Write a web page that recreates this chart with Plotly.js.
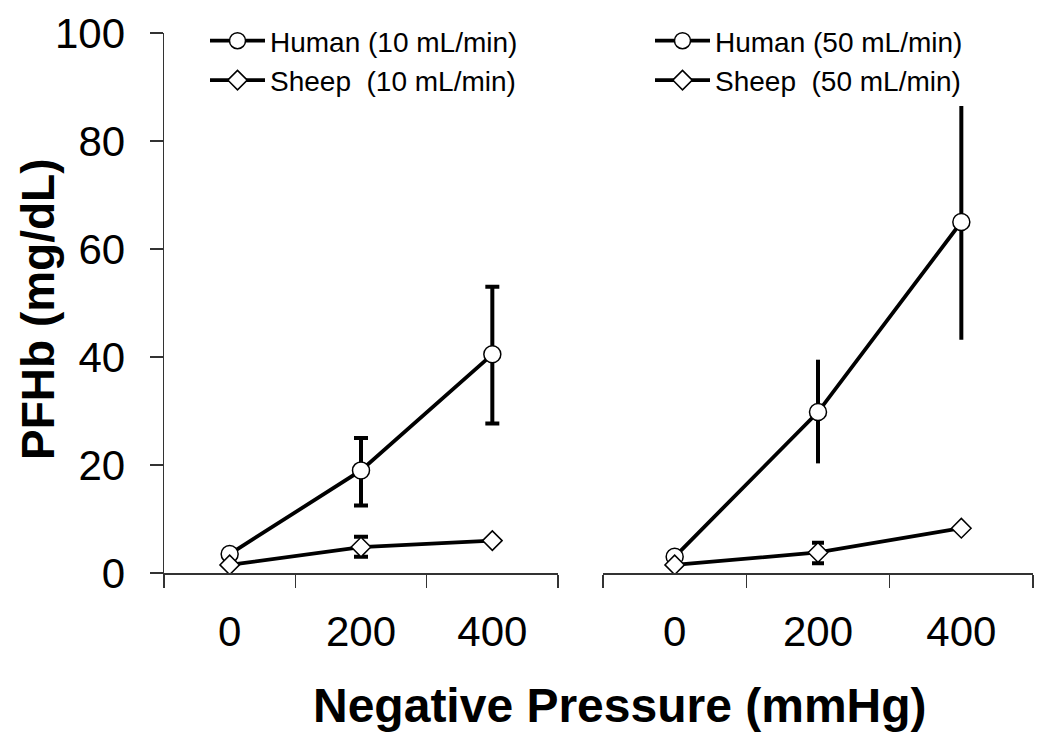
<!DOCTYPE html>
<html>
<head>
<meta charset="utf-8">
<script src="https://cdn.plot.ly/plotly-3.0.1.min.js"></script>
<style>html,body{margin:0;padding:0;background:#fff;}#chart{width:1050px;height:747px;}</style>
</head>
<body>
<div id="chart"></div>
<script>
const pressures = ['0', '200', '400'];

const human10 = [3.5, 19.0, 40.5];
const human10Up = [0, 6.0, 12.5];
const human10Down = [0, 6.5, 12.8];
const sheep10 = [1.5, 4.8, 6.0];
const sheep10Up = [0, 1.9, 0];
const sheep10Down = [0, 1.8, 0];

const human50 = [3.0, 29.8, 65.0];
const human50Up = [0, 9.7, 21.5];
const human50Down = [0, 9.5, 21.8];
const sheep50 = [1.5, 3.8, 8.3];
const sheep50Up = [0, 1.8, 0];
const sheep50Down = [0, 2.0, 0];

const FONT = 'Arial, "Liberation Sans", sans-serif';
const W = 1050, H = 747;

function mk(name, y, up, down, xa, sym, size, legend, capw) {
  return {
    type: 'scatter', mode: 'lines+markers', name: name,
    x: pressures, y: y, xaxis: xa, yaxis: 'y', legend: legend,
    line: {color: '#000', width: 3.8},
    marker: {symbol: sym, size: size, color: '#fff', line: {color: '#000', width: 1.5}},
    error_y: {type: 'data', symmetric: false, array: up, arrayminus: down,
              color: '#000', thickness: 4, width: capw}
  };
}

const data = [
  mk('Human (10 mL/min)', human10, human10Up, human10Down, 'x', 'circle', 17, 'legend', 7),
  mk('Sheep  (10 mL/min)', sheep10, sheep10Up, sheep10Down, 'x', 'diamond', 15, 'legend', 7),
  mk('Human (50 mL/min)', human50, human50Up, human50Down, 'x2', 'circle', 17, 'legend2', 0),
  mk('Sheep  (50 mL/min)', sheep50, sheep50Up, sheep50Down, 'x2', 'diamond', 15, 'legend2', 6)
];

const xCommon = {
  type: 'category', categoryorder: 'array', categoryarray: pressures,
  range: [-0.5, 2.5], tickson: 'boundaries', ticks: 'outside', ticklen: 13,
  tickwidth: 1.5, tickcolor: '#333', showline: true, linecolor: '#333', linewidth: 1.5,
  showgrid: false, zeroline: false, automargin: false,
  tickfont: {family: FONT, size: 42, color: '#000'}, ticklabelstandoff: 21,
  anchor: 'y', fixedrange: true
};

const legendCommon = {
  font: {family: FONT, size: 28, color: '#000'}, bgcolor: 'rgba(0,0,0,0)',
  xanchor: 'left', yanchor: 'top', tracegroupgap: 0, itemwidth: 55,
  orientation: 'v'
};

const layout = {
  width: W, height: H,
  margin: {l: 0, r: 0, t: 0, b: 0},
  paper_bgcolor: '#fff', plot_bgcolor: '#fff',
  showlegend: true,
  xaxis: Object.assign({}, xCommon, {domain: [164 / W, 558 / W]}),
  xaxis2: Object.assign({}, xCommon, {domain: [603 / W, 1033 / W]}),
  yaxis: {
    domain: [1 - 573 / H, 1 - 33 / H], range: [0, 100], dtick: 20,
    ticks: 'outside', ticklen: 13, tickwidth: 1.5, tickcolor: '#333',
    showline: true, linecolor: '#333', linewidth: 1.5, showgrid: false, zeroline: false,
    tickfont: {family: FONT, size: 42, color: '#000'}, ticklabelstandoff: 16,
    automargin: false, anchor: 'x', fixedrange: true
  },
  legend: Object.assign({}, legendCommon, {x: 205 / W, y: 1 - 16 / H}),
  legend2: Object.assign({}, legendCommon, {x: 650 / W, y: 1 - 16 / H}),
  annotations: [
    {text: 'Negative Pressure (mmHg)', xref: 'paper', yref: 'paper',
     x: 620 / W, y: 1 - 705 / H, xanchor: 'center', yanchor: 'middle', showarrow: false,
     font: {family: FONT, size: 48, color: '#000', weight: 'bold'}},
    {text: 'PFHb (mg/dL)', xref: 'paper', yref: 'paper', textangle: -90,
     x: 38 / W, y: 1 - 309 / H, xanchor: 'center', yanchor: 'middle', showarrow: false,
     font: {family: FONT, size: 46, color: '#000', weight: 'bold'}}
  ]
};

Plotly.newPlot('chart', data, layout, {displayModeBar: false, staticPlot: true});
</script>
</body>
</html>
